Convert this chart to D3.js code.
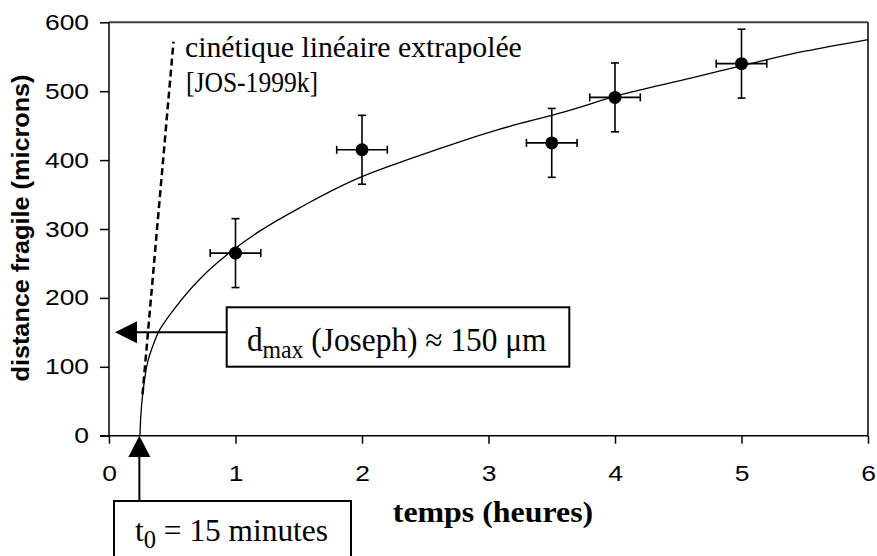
<!DOCTYPE html>
<html><head><meta charset="utf-8">
<script src="https://cdn.jsdelivr.net/npm/d3@7"></script>
<style>
html,body{margin:0;padding:0;background:#fff;}
svg{display:block;}
</style></head>
<body>
<svg id="c" width="877" height="556"></svg>
<script>
// ---------- data ----------
const xTicks = [0, 1, 2, 3, 4, 5, 6];
const yTicks = [0, 100, 200, 300, 400, 500, 600];
const times = [1, 2, 3.5, 4, 5];            // heures
const distances = [265, 415, 425, 491, 540]; // microns
const timeErr = [0.2, 0.2, 0.2, 0.2, 0.2];
const distErr = [50, 50, 50, 50, 50];
// fitted curve
const curveT = [0.245, 0.252, 0.265, 0.28, 0.31, 0.35, 0.39, 0.5, 0.65, 0.8, 0.97, 1.2, 1.5, 2.0, 2.54, 3.07, 3.6, 4.07, 4.6, 5.07, 5.5, 6.0];
const curveD = [0, 30, 58, 80, 110, 132, 150, 180, 214, 242, 268, 298, 330, 376, 412, 444, 470, 496, 519, 540, 558, 575];
// extrapolated linear kinetics (dashed)
const extrapT = [0.265, 0.51];
const extrapD = [60, 572];
const dmaxValue = 150;   // microns
const t0Value = 0.24;    // heures (15 minutes)
const xLabel = "temps (heures)";
const yLabel = "distance fragile (microns)";

// ---------- layout ----------
const svg = d3.select("#c");
const x = d3.scaleLinear().domain([0, 6]).range([109, 868]);
const y = d3.scaleLinear().domain([0, 600]).range([435.7, 22.3]);

function fitWidth(sel, target, cx) {
  const w = sel.node().getBBox().width;
  const s = target / w;
  sel.attr("transform", `translate(${cx},0) scale(${s},1) translate(${-cx},0)`);
}

// top & right frame
svg.append("line").attr("x1", 109).attr("x2", 868).attr("y1", y(600)).attr("y2", y(600))
  .attr("stroke", "#404040").attr("stroke-width", 2);
svg.append("line").attr("x1", 868).attr("x2", 868).attr("y1", y(600)).attr("y2", y(0))
  .attr("stroke", "#000").attr("stroke-width", 1.5);

// axes
const gx = svg.append("g").attr("transform", `translate(0,${y(0)})`)
  .call(d3.axisBottom(x).tickValues(xTicks).tickSize(8).tickSizeOuter(0).tickFormat(d3.format("d")));
const gy = svg.append("g").attr("transform", `translate(${x(0)},0)`)
  .call(d3.axisLeft(y).tickValues(yTicks).tickSize(9).tickSizeOuter(0).tickFormat(d3.format("d")));
[gx, gy].forEach(g => {
  g.select(".domain").attr("stroke", "#000").attr("stroke-width", 1.5);
  g.selectAll(".tick line").attr("stroke", "#000").attr("stroke-width", 1.5);
  g.selectAll(".tick text").attr("fill", "#000")
    .style("font-family", "Liberation Sans, Arial, sans-serif").style("font-size", "22px");
});
gy.select(".domain").attr("d", `M0,${y(600)}V${y(0)}`);
gx.select(".domain").attr("d", `M100,0H868`);
gx.selectAll(".tick text").attr("y", 0).attr("dy", 0).attr("transform", "translate(0,45) scale(1.2,1)");
gy.selectAll(".tick text").attr("x", 0).attr("transform", "translate(-20,0) scale(1.2,1)");

// fitted curve
svg.append("path")
  .datum(curveT.map((t, i) => [t, curveD[i]]))
  .attr("fill", "none").attr("stroke", "#000").attr("stroke-width", 1.3)
  .attr("d", d3.line().x(d => x(d[0])).y(d => y(d[1])).curve(d3.curveMonotoneY));

// dashed extrapolation
svg.append("line")
  .attr("x1", x(extrapT[0])).attr("y1", y(extrapD[0]))
  .attr("x2", x(extrapT[1])).attr("y2", y(extrapD[1]))
  .attr("stroke", "#000").attr("stroke-width", 2.5).attr("stroke-dasharray", "7,4");

// error bars & points
const pts = times.map((t, i) => ({ t, d: distances[i], et: timeErr[i], ed: distErr[i] }));
const eb = svg.append("g").attr("stroke", "#000").attr("stroke-width", 1.6);
pts.forEach(p => {
  eb.append("line").attr("x1", x(p.t)).attr("x2", x(p.t)).attr("y1", y(p.d - p.ed)).attr("y2", y(p.d + p.ed));
  eb.append("line").attr("x1", x(p.t) - 4).attr("x2", x(p.t) + 4).attr("y1", y(p.d - p.ed)).attr("y2", y(p.d - p.ed));
  eb.append("line").attr("x1", x(p.t) - 4).attr("x2", x(p.t) + 4).attr("y1", y(p.d + p.ed)).attr("y2", y(p.d + p.ed));
  eb.append("line").attr("x1", x(p.t - p.et)).attr("x2", x(p.t + p.et)).attr("y1", y(p.d)).attr("y2", y(p.d));
  eb.append("line").attr("x1", x(p.t - p.et)).attr("x2", x(p.t - p.et)).attr("y1", y(p.d) - 4).attr("y2", y(p.d) + 4);
  eb.append("line").attr("x1", x(p.t + p.et)).attr("x2", x(p.t + p.et)).attr("y1", y(p.d) - 4).attr("y2", y(p.d) + 4);
});
svg.append("g").selectAll("circle").data(pts).join("circle")
  .attr("cx", d => x(d.t)).attr("cy", d => y(d.d)).attr("r", 6.5).attr("fill", "#000");

// annotation text (dashed line)
const serif = "Liberation Serif, Times New Roman, serif";
const t1 = svg.append("text").attr("x", 185).attr("y", 57).attr("font-family", serif).attr("font-size", 30)
  .text("cinétique linéaire extrapolée");
fitWidth(t1, 337, 185);
const t2 = svg.append("text").attr("x", 186).attr("y", 92).attr("font-family", serif).attr("font-size", 30)
  .text("[JOS-1999k]");
fitWidth(t2, 132, 186);

// left arrow at d_max
const ay = y(dmaxValue);
svg.append("line").attr("x1", 136).attr("x2", 226.7).attr("y1", ay).attr("y2", ay)
  .attr("stroke", "#000").attr("stroke-width", 2);
svg.append("path").attr("d", `M115,${ay}L137,${ay - 11}L137,${ay + 11}Z`).attr("fill", "#000");
svg.append("rect").attr("x", 226.7).attr("y", 307.3).attr("width", 342.6).attr("height", 59.4)
  .attr("fill", "#fff").attr("stroke", "#000").attr("stroke-width", 2);
const dt = svg.append("text").attr("x", 396.7).attr("y", 351).attr("text-anchor", "middle")
  .attr("font-family", serif).attr("font-size", 33);
dt.append("tspan").text("d");
dt.append("tspan").attr("font-size", 25).attr("dy", 7).text("max");
dt.append("tspan").attr("dy", -7).text(" (Joseph) \u2248 150 \u03bcm");
fitWidth(dt, 300, 396.7);

// up arrow at t0
const ax = x(t0Value);
svg.append("path").attr("d", `M${ax},${y(0)}L${ax - 11},457L${ax + 11},457Z`).attr("fill", "#000");
svg.append("line").attr("x1", ax).attr("x2", ax).attr("y1", 455).attr("y2", 501)
  .attr("stroke", "#000").attr("stroke-width", 2);
svg.append("rect").attr("x", 114).attr("y", 501).attr("width", 237).attr("height", 70)
  .attr("fill", "#fff").attr("stroke", "#000").attr("stroke-width", 2);
const tt = svg.append("text").attr("x", 231.5).attr("y", 541).attr("text-anchor", "middle")
  .attr("font-family", serif).attr("font-size", 32);
tt.append("tspan").text("t");
tt.append("tspan").attr("font-size", 25).attr("dy", 7).text("0");
tt.append("tspan").attr("dy", -7).text(" = 15 minutes");
fitWidth(tt, 193, 231.5);

// axis titles
const xt = svg.append("text").attr("x", 493).attr("y", 522).attr("text-anchor", "middle")
  .attr("font-family", serif).attr("font-weight", "bold").attr("font-size", 29).text(xLabel);
fitWidth(xt, 200.6, 493);
const yt = svg.append("text").attr("text-anchor", "middle")
  .attr("font-family", "Liberation Sans, Arial, sans-serif").attr("font-weight", "bold").attr("font-size", 23)
  .attr("textLength", 307).attr("lengthAdjust", "spacingAndGlyphs")
  .attr("transform", "translate(29,228) rotate(-90)").text(yLabel);
</script>
</body></html>
